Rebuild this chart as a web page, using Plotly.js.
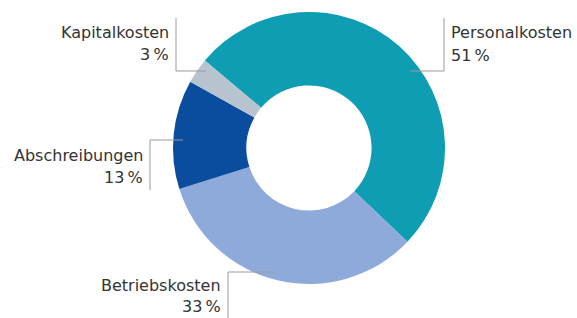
<!DOCTYPE html>
<html><head><meta charset="utf-8">
<script src="https://cdn.plot.ly/plotly-3.0.1.min.js"></script>
<style>html,body{margin:0;padding:0;background:#fff}#c{width:577px;height:318px}</style>
</head><body><div id="c"></div>
<script>
const categories = ["Personalkosten", "Betriebskosten", "Abschreibungen", "Kapitalkosten"];
const values = [51, 33, 13, 3];
const colors = ["#0e9db3", "#8eaadb", "#0a4c9e", "#b7c4cf"];

const W = 577, H = 318;
const px = x => x / W, py = y => 1 - y / H;
const total = values.reduce((a, b) => a + b, 0);
const pct = v => Math.round(v / total * 100) + "\u2009%";

const labelLayout = {
  "Personalkosten": {x: 449, anchor: "left", y1: 33, y2: 56, line: [[410, 71], [444, 71], [444, 18]]},
  "Kapitalkosten": {x: 171, anchor: "right", y1: 33, y2: 55, line: [[206, 71], [176, 71], [176, 18]]},
  "Abschreibungen": {x: 145, anchor: "right", y1: 155, y2: 177, line: [[183, 140], [150, 140], [150, 190]]},
  "Betriebskosten": {x: 223, anchor: "right", y1: 285, y2: 306, line: [[275, 272], [228, 272], [228, 318]]}
};

const font = {family: "DejaVu Sans", size: 16, color: "#333333"};
const annotations = [], shapes = [];
categories.forEach((c, i) => {
  const L = labelLayout[c];
  annotations.push({xref: "paper", yref: "paper", x: px(L.x), y: py(L.y1), xanchor: L.anchor, yanchor: "middle", text: c, showarrow: false, font: font});
  annotations.push({xref: "paper", yref: "paper", x: px(L.x), y: py(L.y2), xanchor: L.anchor, yanchor: "middle", text: pct(values[i]), showarrow: false, font: font});
  const p = L.line.map(([x, y]) => px(x).toFixed(5) + "," + py(y).toFixed(5));
  shapes.push({type: "path", xref: "paper", yref: "paper", path: "M" + p.join("L"), line: {color: "#9a9a9a", width: 1}});
});

const data = [{
  type: "pie",
  labels: categories,
  values: values,
  marker: {colors: colors, line: {width: 0}},
  hole: 0.46,
  sort: false,
  direction: "clockwise",
  rotation: -50,
  textinfo: "none",
  hoverinfo: "label+percent",
  domain: {x: [px(173), px(445)], y: [py(284), py(12)]}
}];

const layout = {
  width: W, height: H,
  margin: {l: 0, r: 0, t: 0, b: 0},
  paper_bgcolor: "#fff",
  showlegend: false,
  annotations: annotations,
  shapes: shapes
};
Plotly.newPlot("c", data, layout, {displayModeBar: false, staticPlot: true});
</script></body></html>
